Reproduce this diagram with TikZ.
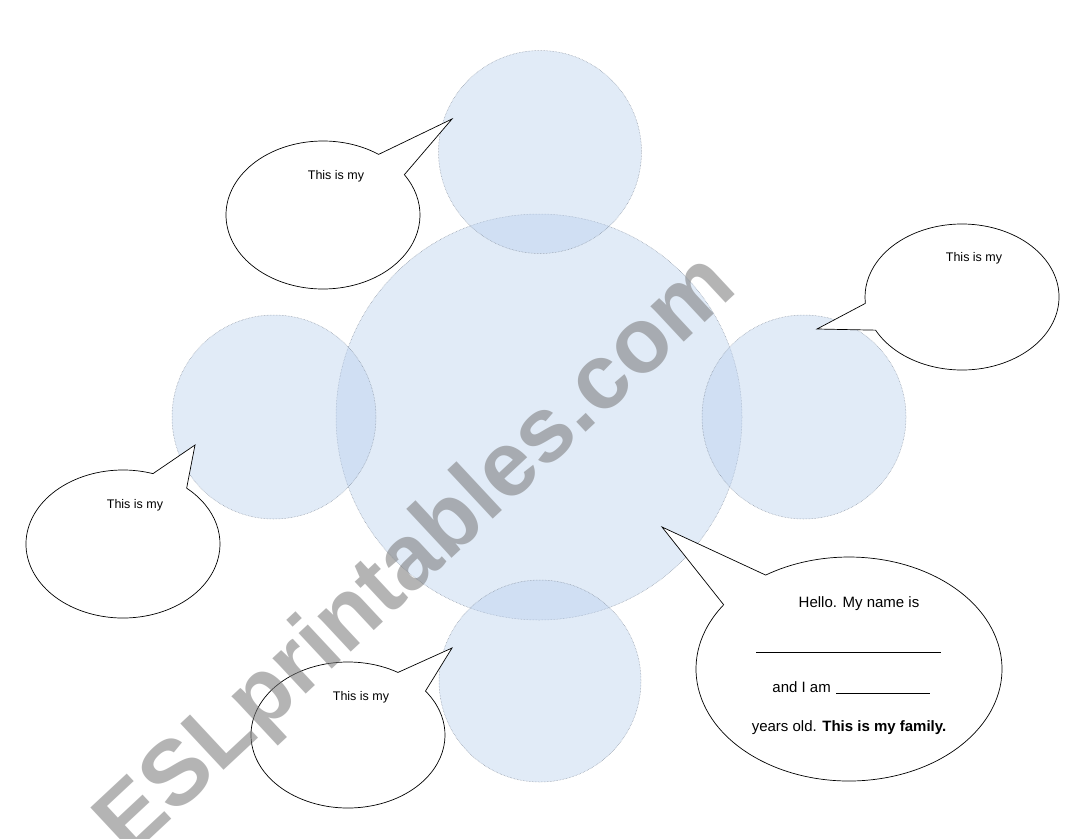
\documentclass[tikz,border=0pt]{standalone}
\usepackage{fontspec}
\setmainfont{Liberation Sans}
\usetikzlibrary{calc}
\definecolor{circfill}{RGB}{185,208,238}
\definecolor{circline}{RGB}{110,120,135}
\definecolor{wmark}{RGB}{120,120,120}
\tikzset{
  pcirc/.style={circle, inner sep=0pt, outer sep=0pt, fill=circfill, fill opacity=0.42,
    draw=circline, draw opacity=0.8, densely dotted, line width=0.5pt},
  bubble/.style={draw=black, fill=white, line width=0.7pt, line join=miter},
  lbl/.style={font=\fontsize{12.5}{14}\selectfont, inner sep=0pt, anchor=center},
  big/.style={font=\fontsize{15}{17}\selectfont, inner sep=0pt},
  uline/.style={draw=black, line width=0.8pt}
}
\begin{document}
\begin{tikzpicture}[x=1pt,y=1pt]
\useasboundingbox (0,0) rectangle (1086,-838);
\fill[white] (0,0) rectangle (1086,-838);

% circles
\node[pcirc, minimum size=406pt] (center) at (539,-417) {};
\node[pcirc, minimum size=203pt] (top) at (540,-152) {};
\node[pcirc, minimum size=204pt] (left) at (274,-417) {};
\node[pcirc, minimum size=204pt] (right) at (804,-417) {};
\node[pcirc, minimum size=202pt] (bottom) at (540,-681) {};

% bubble centres and tail tips
\coordinate (b1) at (323,-215);  \coordinate (t1) at (452,-119);
\coordinate (b2) at (962,-297);  \coordinate (t2) at (817,-329);
\coordinate (b3) at (123,-544);  \coordinate (t3) at (195,-445);
\coordinate (b4) at (348,-735);  \coordinate (t4) at (452,-648);
\coordinate (b5) at (849,-669);  \coordinate (t5) at (662,-527);

% bubbles
\draw[bubble] ($(b1)+(55:97pt and 74pt)$) arc[start angle=55, end angle=393, x radius=97pt, y radius=74pt] -- (t1) -- cycle;
\draw[bubble] ($(b2)+(207:97pt and 73pt)$) arc[start angle=207, end angle=545, x radius=97pt, y radius=73pt] -- (t2) -- cycle;
\draw[bubble] ($(b3)+(72:97pt and 74pt)$) arc[start angle=72, end angle=409, x radius=97pt, y radius=74pt] -- (t3) -- cycle;
\draw[bubble] ($(b4)+(59:97pt and 73pt)$) arc[start angle=59, end angle=397, x radius=97pt, y radius=73pt] -- (t4) -- cycle;
\draw[bubble] ($(b5)+(145:153pt and 112pt)$) arc[start angle=145, end angle=483, x radius=153pt, y radius=112pt] -- (t5) -- cycle;

% labels
\node[lbl] (l1) at (336,-176) {This is my};
\node[lbl] (l2) at (974,-258) {This is my};
\node[lbl] (l3) at (135,-505) {This is my};
\node[lbl] (l4) at (361,-697) {This is my};

\node[big] (h1) at (859,-604) {Hello. My name is};
\coordinate (u1a) at (756,-652); \coordinate (u1b) at (941,-652);
\draw[uline] (u1a) -- (u1b);
\node[big, anchor=east] (h2) at (831,-687) {and I am};
\coordinate (u2a) at (836,-693); \coordinate (u2b) at (930,-693);
\draw[uline] (u2a) -- (u2b);
\node[big] (h3) at (849,-728) {years old. \textbf{This is my family.}};

% watermark
\node[text=wmark, text opacity=0.55, font=\fontsize{92}{92}\selectfont\bfseries, rotate=43, inner sep=0pt] (wm) at (418,-557) {ESLprintables.com};
\end{tikzpicture}
\end{document}
